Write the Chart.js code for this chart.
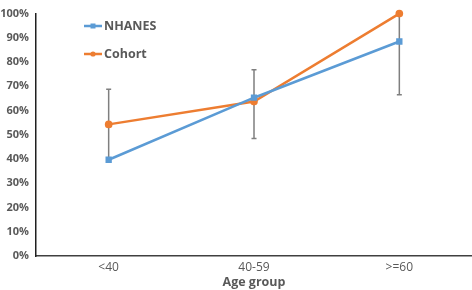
<!DOCTYPE html>
<html><head><meta charset="utf-8">
<script src="https://cdn.jsdelivr.net/npm/chart.js@4"></script>
<style>
html,body{margin:0;padding:0;background:#fff;}
#wrap{position:relative;width:472px;height:290px;}
.lg{position:absolute;font-family:"Open Sans",Arial,sans-serif;font-weight:bold;font-size:12.5px;color:#595959;display:flex;align-items:center;}
.lg canvas{margin-right:2px;}
</style></head><body>
<div id="wrap"><canvas id="c" width="472" height="290"></canvas>
<div class="lg" style="left:84px;top:17px;"><canvas id="l1" width="18" height="10"></canvas>NHANES</div>
<div class="lg" style="left:84px;top:45px;"><canvas id="l2" width="18" height="10"></canvas>Cohort</div>
</div>
<script>
const categories = ["<40", "40-59", ">=60"];
const nhanes = [39.7, 65.3, 88.5];
const cohort = [54.3, 63.7, 100];
const errLow = [39.7, 48.5, 66.5];
const errHigh = [68.8, 76.8, 100];
const yTicks = [0,10,20,30,40,50,60,70,80,90,100];

const BLUE = "#5B9BD5", ORANGE = "#ED7D31";

function legendIcon(id, color, square){
  const c = document.getElementById(id), g = c.getContext("2d");
  g.strokeStyle = color; g.lineWidth = 2.5;
  g.beginPath(); g.moveTo(0,5); g.lineTo(18,5); g.stroke();
  g.fillStyle = color;
  if (square) g.fillRect(6.5,2.5,5,5); else { g.beginPath(); g.arc(9,5,2.6,0,Math.PI*2); g.fill(); }
}
legendIcon("l1", BLUE, true);
legendIcon("l2", ORANGE, false);

const errorBars = {
  id: "errorBars",
  beforeDatasetsDraw(chart){
    const {ctx, scales:{x, y}} = chart;
    ctx.save();
    ctx.strokeStyle = "#7F7F7F"; ctx.lineWidth = 1.5;
    categories.forEach((c, i) => {
      const px = x.getPixelForValue(i);
      const y1 = y.getPixelForValue(errHigh[i]), y2 = y.getPixelForValue(errLow[i]);
      ctx.beginPath();
      ctx.moveTo(px, y1); ctx.lineTo(px, y2);
      ctx.moveTo(px-2.5, y1); ctx.lineTo(px+2.5, y1);
      ctx.moveTo(px-2.5, y2); ctx.lineTo(px+2.5, y2);
      ctx.stroke();
    });
    ctx.restore();
  }
};

new Chart(document.getElementById("c"), {
  type: "line",
  data: {
    labels: categories,
    datasets: [
      {label:"NHANES", data:nhanes, borderColor:BLUE, backgroundColor:BLUE, borderWidth:2.5,
       pointStyle:"rect", pointRadius:2.7, pointHoverRadius:2.7, tension:0, clip:false},
      {label:"Cohort", data:cohort, borderColor:ORANGE, backgroundColor:ORANGE, borderWidth:2.5,
       pointStyle:"circle", pointRadius:2.6, pointHoverRadius:2.6, tension:0, clip:false}
    ]
  },
  options: {
    responsive:false, animation:false, devicePixelRatio:1,
    layout:{autoPadding:false, padding:{top:6, right:0, left:0, bottom:0}},
    plugins:{legend:{display:false}, tooltip:{enabled:false}},
    scales:{
      x:{
        offset:true,
        grid:{display:false, drawTicks:false},
        border:{display:true, color:"#404040", width:1.5},
        ticks:{color:"#595959", font:{family:"Open Sans", size:12}, padding:4},
        title:{display:true, text:"Age group", color:"#595959", font:{family:"Open Sans", size:12.5, weight:"bold"}, padding:{top:-2,bottom:0}},
        afterFit(s){ s.height = 34; }
      },
      y:{
        min:0, max:100,
        grid:{display:false, drawTicks:false},
        border:{display:true, color:"#202020", width:1.5},
        afterBuildTicks(s){ s.ticks = yTicks.map(v=>({value:v})); },
        ticks:{color:"#595959", font:{family:"Open Sans", size:11, weight:"bold"}, padding:7, callback:v=>v+"%"},
        afterFit(s){ s.width = 36; }
      }
    }
  },
  plugins:[errorBars]
});
</script>
</body></html>
